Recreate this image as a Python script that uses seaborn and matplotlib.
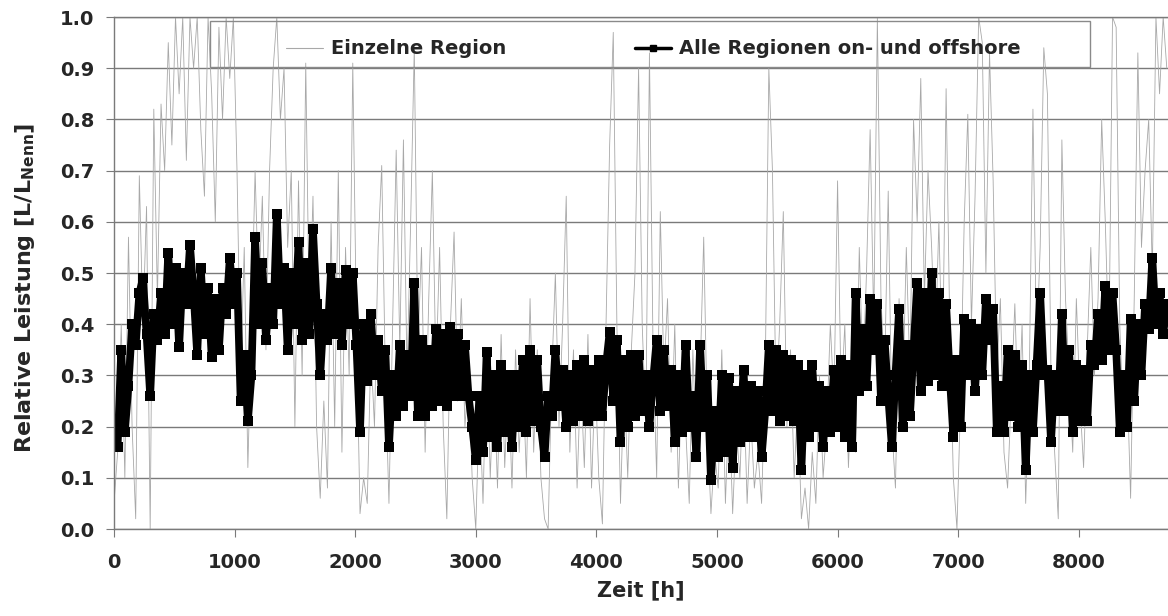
import numpy as np
import pandas as pd
import matplotlib
matplotlib.use('Agg')
import matplotlib.pyplot as plt
from matplotlib.lines import Line2D
from matplotlib.patches import Rectangle
import seaborn as sns

# ----- Wind power: single region vs. all regions (on- and offshore) -----

# time axis, one reading every 30 h
hours = np.arange(0, 8760, 30)

# single region (thin grey line)
einzel = [
    0.05, 0.15, 0.40, 0.10, 0.57, 0.20, 0.02, 0.69, 0.40, 0.63,
    0.00, 0.82, 0.45, 0.83, 0.70, 0.95, 0.75, 1.00, 0.85, 1.00,
    0.72, 1.00, 0.90, 1.00, 0.78, 0.65, 1.00, 0.85, 0.60, 0.98,
    0.80, 1.00, 0.88, 1.00, 0.70, 0.30, 0.55, 0.12, 0.40, 0.70,
    0.45, 0.65, 0.35, 0.70, 0.90, 1.00, 0.80, 0.90, 0.55, 0.70,
    0.20, 0.68, 0.30, 0.91, 0.40, 0.65, 0.20, 0.06, 0.25, 0.08,
    0.60, 0.20, 0.70, 0.15, 0.55, 0.30, 0.91, 0.40, 0.03, 0.10,
    0.05, 0.35, 0.20, 0.55, 0.71, 0.30, 0.05, 0.40, 0.74, 0.35,
    0.76, 0.30, 0.60, 0.94, 0.35, 0.55, 0.15, 0.45, 0.70, 0.30,
    0.55, 0.20, 0.02, 0.40, 0.58, 0.25, 0.45, 0.20, 0.30, 0.10,
    0.00, 0.25, 0.05, 0.35, 0.10, 0.30, 0.08, 0.38, 0.12, 0.30,
    0.08, 0.35, 0.15, 0.30, 0.10, 0.45, 0.15, 0.35, 0.10, 0.02,
    0.00, 0.30, 0.50, 0.20, 0.40, 0.65, 0.15, 0.35, 0.08, 0.30,
    0.12, 0.38, 0.08, 0.30, 0.10, 0.01, 0.40, 0.75, 0.97, 0.40,
    0.05, 0.30, 0.10, 0.35, 0.50, 0.90, 0.40, 0.20, 0.93, 0.35,
    0.10, 0.62, 0.30, 0.45, 0.15, 0.40, 0.08, 0.30, 0.20, 0.05,
    0.35, 0.15, 0.30, 0.57, 0.20, 0.03, 0.15, 0.08, 0.35, 0.05,
    0.25, 0.03, 0.20, 0.10, 0.30, 0.05, 0.22, 0.08, 0.15, 0.05,
    0.30, 0.90, 0.70, 0.25, 0.40, 0.62, 0.20, 0.35, 0.10, 0.25,
    0.02, 0.08, 0.00, 0.15, 0.05, 0.30, 0.10, 0.20, 0.40, 0.25,
    0.68, 0.25, 0.40, 0.12, 0.30, 0.15, 0.55, 0.30, 0.50, 0.78,
    0.40, 1.00, 0.45, 0.30, 0.66, 0.20, 0.08, 0.45, 0.25, 0.55,
    0.30, 0.80, 0.60, 0.88, 0.45, 0.70, 0.55, 0.35, 0.60, 0.30,
    0.86, 0.40, 0.10, 0.00, 0.25, 0.60, 0.81, 0.40, 0.65, 1.00,
    0.95, 0.50, 0.93, 0.68, 0.30, 0.45, 0.15, 0.08, 0.26, 0.44,
    0.20, 0.40, 0.05, 0.30, 0.82, 0.35, 0.55, 0.94, 0.85, 0.30,
    0.15, 0.02, 0.76, 0.45, 0.30, 0.15, 0.45, 0.25, 0.12, 0.35,
    0.55, 0.30, 0.45, 0.80, 0.60, 0.35, 1.00, 0.98, 0.40, 0.20,
    0.30, 0.06, 0.45, 0.93, 0.55, 0.70, 0.80, 0.50, 1.00, 0.85,
    1.00, 0.90,
]

# all regions on- and offshore (black squares)
alle = [
    0.20, 0.16, 0.35, 0.19, 0.28, 0.40, 0.36, 0.46, 0.49, 0.38,
    0.26, 0.42, 0.37, 0.46, 0.38, 0.54, 0.40, 0.51, 0.355, 0.50,
    0.44, 0.555, 0.46, 0.34, 0.51, 0.38, 0.47, 0.335, 0.45, 0.35,
    0.47, 0.42, 0.53, 0.44, 0.50, 0.25, 0.34, 0.21, 0.30, 0.57,
    0.40, 0.52, 0.37, 0.47, 0.40, 0.615, 0.44, 0.51, 0.35, 0.50,
    0.40, 0.56, 0.37, 0.52, 0.38, 0.585, 0.44, 0.30, 0.42, 0.37,
    0.51, 0.38, 0.48, 0.36, 0.505, 0.40, 0.50, 0.36, 0.19, 0.40,
    0.29, 0.42, 0.30, 0.37, 0.27, 0.35, 0.16, 0.30, 0.22, 0.36,
    0.24, 0.34, 0.26, 0.48, 0.22, 0.37, 0.22, 0.35, 0.24, 0.39,
    0.25, 0.38, 0.24, 0.395, 0.26, 0.38, 0.26, 0.36, 0.26, 0.20,
    0.135, 0.26, 0.15, 0.345, 0.18, 0.30, 0.16, 0.32, 0.19, 0.30,
    0.16, 0.30, 0.20, 0.33, 0.19, 0.35, 0.21, 0.33, 0.20, 0.14,
    0.26, 0.22, 0.35, 0.24, 0.31, 0.20, 0.30, 0.21, 0.32, 0.22,
    0.33, 0.21, 0.31, 0.22, 0.33, 0.22, 0.32, 0.385, 0.25, 0.37,
    0.17, 0.33, 0.20, 0.34, 0.22, 0.34, 0.23, 0.30, 0.20, 0.29,
    0.37, 0.23, 0.35, 0.24, 0.31, 0.17, 0.30, 0.19, 0.36, 0.20,
    0.26, 0.14, 0.36, 0.20, 0.30, 0.095, 0.23, 0.14, 0.30, 0.15,
    0.295, 0.12, 0.27, 0.17, 0.31, 0.18, 0.28, 0.18, 0.27, 0.14,
    0.23, 0.36, 0.23, 0.35, 0.21, 0.34, 0.22, 0.33, 0.21, 0.32,
    0.115, 0.30, 0.18, 0.32, 0.20, 0.28, 0.16, 0.27, 0.19, 0.31,
    0.20, 0.33, 0.18, 0.32, 0.16, 0.46, 0.27, 0.39, 0.28, 0.45,
    0.35, 0.44, 0.25, 0.37, 0.26, 0.16, 0.30, 0.43, 0.20, 0.36,
    0.22, 0.35, 0.48, 0.27, 0.46, 0.29, 0.50, 0.30, 0.46, 0.28,
    0.44, 0.30, 0.18, 0.33, 0.20, 0.41, 0.30, 0.40, 0.27, 0.39,
    0.30, 0.45, 0.37, 0.43, 0.19, 0.28, 0.19, 0.35, 0.22, 0.34,
    0.20, 0.32, 0.115, 0.30, 0.19, 0.32, 0.46, 0.30, 0.31, 0.17,
    0.30, 0.23, 0.42, 0.23, 0.35, 0.19, 0.32, 0.21, 0.31, 0.21,
    0.36, 0.32, 0.42, 0.33, 0.475, 0.35, 0.46, 0.35, 0.19, 0.30,
    0.20, 0.41, 0.25, 0.40, 0.30, 0.44, 0.39, 0.53, 0.40, 0.46,
    0.38, 0.44,
]

label_einzel = 'Einzelne Region'
label_alle = 'Alle Regionen on- und offshore'

df = pd.DataFrame({'Zeit': hours, 'Einzel': einzel, 'Alle': alle})

sns.set_style('white')
plt.rcParams['font.family'] = ['DejaVu Sans']
plt.rcParams['mathtext.fontset'] = 'dejavusans'

fig = plt.figure(figsize=(11.68, 6.16), dpi=100)
ax = fig.add_axes([0.0976, 0.1412, 0.9024, 0.8312])

sns.lineplot(data=df, x='Zeit', y='Einzel', ax=ax, color='#a8a8a8', linewidth=0.6)
sns.lineplot(data=df, x='Zeit', y='Alle', ax=ax, color='black', linewidth=5.5,
             marker='s', markersize=7, markeredgewidth=0)

ax.set_xlim(0, 8740)
ax.set_ylim(0, 1.0)
ax.set_xticks(range(0, 9000, 1000))
ax.set_yticks(np.arange(0, 1.01, 0.1))
ax.set_yticklabels([f'{v:.1f}' for v in np.arange(0, 1.01, 0.1)])
ax.grid(axis='y', color='#7a7a7a', linewidth=1.0)
ax.grid(axis='x', visible=False)
ax.set_axisbelow(True)

for s in ['left', 'bottom', 'top']:
    ax.spines[s].set_color('#7a7a7a')
    ax.spines[s].set_linewidth(1.0)
ax.spines['right'].set_visible(False)

ax.tick_params(axis='x', direction='out', length=6, color='#7a7a7a', pad=11,
               labelsize=14, bottom=True)
ax.tick_params(axis='y', direction='out', length=6, color='#7a7a7a', pad=8,
               labelsize=14, left=True)
for t in ax.get_xticklabels() + ax.get_yticklabels():
    t.set_fontweight('bold')

ax.set_xlabel('Zeit [h]', fontsize=15, fontweight='bold', labelpad=6)
ax.set_ylabel(r'Relative Leistung [L/L$_{\mathbf{Nenn}}$]', fontsize=16,
              fontweight='bold')
ax.yaxis.set_label_coords(-0.073, 0.47)

# legend box
ax.add_patch(Rectangle((0.0911, 0.902), 0.835, 0.09, transform=ax.transAxes,
                       fill=False, edgecolor='#8a8a8a', linewidth=1.0, zorder=5))
handles = [
    Line2D([], [], color='#a8a8a8', linewidth=0.8),
    Line2D([], [], color='black', linewidth=2.5, marker='s', markersize=5),
]
leg = ax.legend(handles, [label_einzel, label_alle], ncol=2, mode='expand',
                bbox_to_anchor=(0.1547, 0.902, 0.714, 0.09), loc='lower left',
                prop={'size': 14, 'weight': 'bold'}, frameon=False,
                handlelength=1.9, handletextpad=0.4, borderaxespad=0, borderpad=0.45)

fig.savefig('out.png', dpi=100)
